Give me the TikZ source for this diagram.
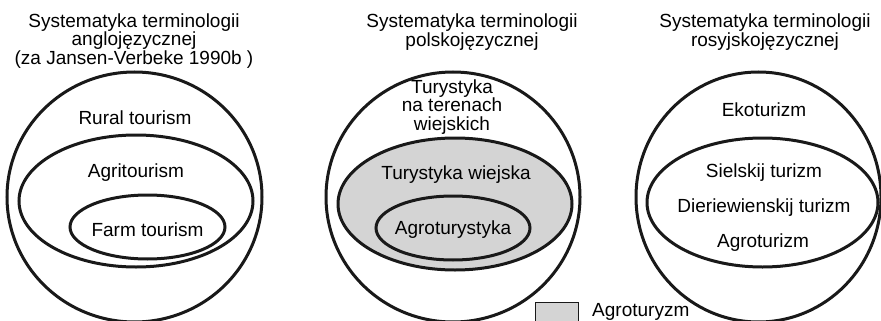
\documentclass[tikz,border=0pt]{standalone}
\usepackage{fontspec}
\setmainfont{Liberation Sans}

\begin{document}
\begin{tikzpicture}[x=1pt,y=-1pt,every node/.style={font=\fontsize{19}{18.5}\selectfont,align=center,inner sep=0pt},ring/.style={draw=black!90,line width=3pt},shaded/.style={ring,fill=black!17}]
\useasboundingbox (0,0) rectangle (881,321);
\clip (0,0) rectangle (881,321);

% anglojezyczna
\node (titleEn) at (134,41) {Systematyka terminologii\\anglojęzycznej\\(za Jansen-Verbeke 1990b )};
\draw[ring] (134.5,197) ellipse [x radius=127.5pt,y radius=125pt];
\draw[ring] (136,201) ellipse [x radius=117pt,y radius=66pt];
\draw[ring] (147.5,227) ellipse [x radius=77.5pt,y radius=32pt];
\node (rural) at (135,118) {Rural tourism};
\node (agri) at (136,173) {Agritourism};
\node (farm) at (147.5,230) {Farm tourism};

% polskojezyczna
\node (titlePl) at (472,32) {Systematyka terminologii\\polskojęzycznej};
\draw[ring] (453,197) ellipse [x radius=127pt,y radius=125pt];
\draw[shaded] (455,204) ellipse [x radius=117pt,y radius=66pt];
\draw[shaded] (453,228) ellipse [x radius=77pt,y radius=32pt];
\node (tereny) at (452,107) {Turystyka\\na terenach\\wiejskich};
\node (wiejska) at (456,175) {Turystyka wiejska};
\node (agroPl) at (453,230) {Agroturystyka};

% rosyjskojezyczna
\node (titleRu) at (765,32) {Systematyka terminologii\\rosyjskojęzycznej};
\draw[ring] (758.5,197) ellipse [x radius=122.5pt,y radius=125pt];
\draw[ring] (762.5,202.5) ellipse [x radius=115.5pt,y radius=64.5pt];
\node (eko) at (764,110) {Ekoturizm};
\node (sielski) at (764,173) {Sielskij turizm};
\node (dieriew) at (764,208) {Dieriewienskij turizm};
\node (agroRu) at (763,243) {Agroturizm};

% legenda
\draw[draw=black!90,line width=1pt,fill=black!17] (535,302) rectangle (578,325);
\node[anchor=west] (legend) at (592,312) {Agroturyzm};
\end{tikzpicture}
\end{document}
